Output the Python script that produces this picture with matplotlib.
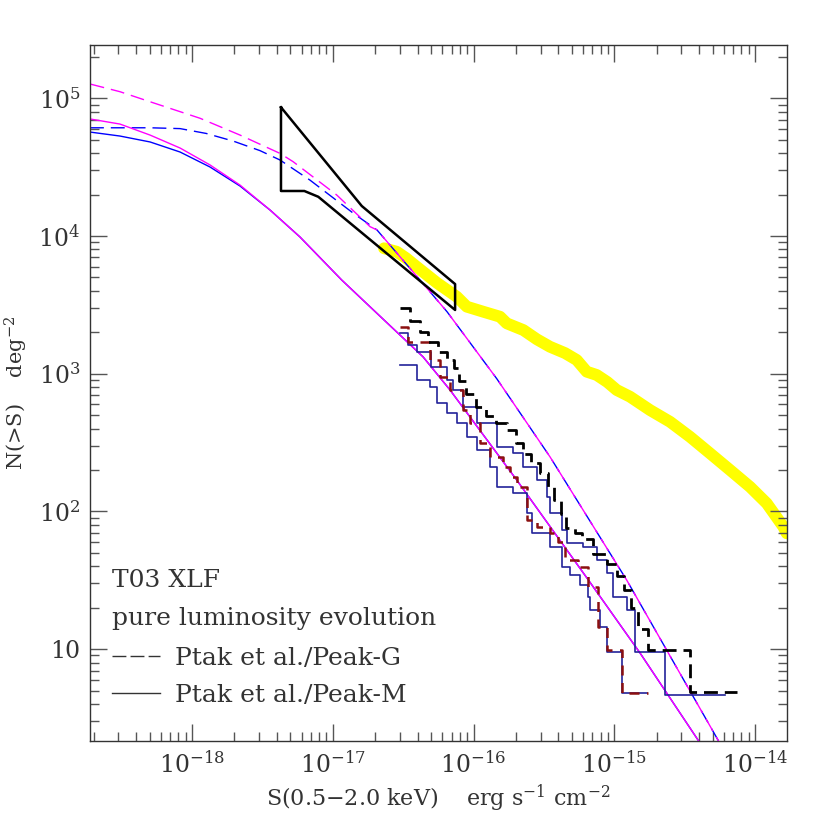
import numpy as np
import matplotlib
matplotlib.use('Agg')
import matplotlib.pyplot as plt
from matplotlib.ticker import LogLocator, FixedLocator, FuncFormatter, NullFormatter

plt.rcParams['font.family'] = ['DejaVu Serif', 'DejaVu Sans']
plt.rcParams['mathtext.fontset'] = 'dejavuserif'

# all values are log10(S) and log10(N)
# model curves (T03 XLF, pure luminosity evolution)
mag_dash_s = [-18.725, -18.512, -18.298, -17.943, -17.659, -17.375, -17.282, -16.972, -16.735]
mag_dash_n = [5.104, 5.048, 4.975, 4.855, 4.733, 4.600, 4.540, 4.298, 4.068]
blue_dash_s = [-18.725, -18.298, -18.085, -17.9, -17.709, -17.517, -17.375, -17.162, -16.856]
blue_dash_n = [4.786, 4.786, 4.780, 4.745, 4.690, 4.620, 4.552, 4.406, 4.167]
# common part of both dashed curves
dash_tail_s = [-16.686, -16.38, -16.188, -15.835, -15.457, -14.912, -14.263, -14.1]
dash_tail_n = [4.044, 3.68, 3.45, 2.964, 2.397, 1.502, 0.34, 0.04]

mag_solid_s = [-18.725, -18.512, -18.298, -18.085, -17.872, -17.659, -17.446, -17.233,
               -16.936, -16.359, -16.167, -15.693, -15.184, -14.817, -14.405, -14.3]
mag_solid_n = [4.850, 4.813, 4.733, 4.639, 4.516, 4.370, 4.189, 3.993,
               3.680, 3.123, 2.882, 2.228, 1.502, 0.972, 0.34, 0.18]
blue_solid_s = [-18.725, -18.512, -18.298, -18.085, -17.872, -17.659, -17.446]
blue_solid_n = [4.755, 4.726, 4.683, 4.610, 4.501, 4.363, 4.189]

# fluctuation analysis region (bow tie)
bow_s = [-17.368, -16.794, -16.131, -16.131, -17.103, -17.202, -17.368, -17.368]
bow_n = [4.935, 4.218, 3.651, 3.463, 4.285, 4.327, 4.327, 4.935]

# observed counts (yellow)
obs_s = [-16.636, -16.546, -16.48, -16.404, -16.26, -16.119, -16.048, -15.93, -15.812,
         -15.764, -15.646, -15.55, -15.457, -15.35, -15.267, -15.196, -15.125, -15.05,
         -14.983, -14.888, -14.746, -14.604, -14.462, -14.32, -14.178, -14.035,
         -13.917, -13.799, -13.775]
obs_n = [3.911, 3.886, 3.84, 3.777, 3.66, 3.559, 3.487, 3.45, 3.414,
         3.366, 3.317, 3.25, 3.196, 3.15, 3.100, 3.015, 2.991, 2.94,
         2.882, 2.833, 2.736, 2.651, 2.542, 2.422, 2.301, 2.178,
         2.059, 1.889, 1.841]

# Ptak et al. staircases: flux where the level drops, level, end flux
g1_s = [-16.52, -16.45, -16.38, -16.32, -16.25, -16.19, -16.14, -16.10, -16.05, -15.98,
        -15.91, -15.84, -15.76, -15.70, -15.65, -15.59, -15.53, -15.47, -15.43, -15.38,
        -15.34, -15.28, -15.23, -15.15, -15.05, -14.98, -14.93, -14.88, -14.83, -14.76,
        -14.46]
g1_n = [3.475, 3.38, 3.30, 3.23, 3.16, 3.10, 3.04, 2.95, 2.85, 2.76,
        2.69, 2.64, 2.59, 2.50, 2.42, 2.35, 2.28, 2.18, 2.08, 1.98,
        1.88, 1.84, 1.80, 1.69, 1.62, 1.53, 1.43, 1.30, 1.15, 0.994,
        0.691]
g1_end = -14.13

g2_s = [-16.52, -16.463, -16.309, -16.238, -16.167, -16.072, -16.025, -15.954, -15.883,
        -15.788, -15.741, -15.693, -15.622, -15.551, -15.457, -15.398, -15.35, -15.256,
        -15.184, -15.113, -15.054, -14.947]
g2_n = [3.341, 3.232, 3.10, 2.978, 2.882, 2.737, 2.640, 2.495, 2.397,
        2.325, 2.252, 2.179, 1.938, 1.889, 1.841, 1.780, 1.647, 1.598,
        1.453, 1.163, 0.994, 0.683]
g2_end = -14.76

m1_s = [-16.522, -16.463, -16.404, -16.30, -16.19, -16.144, -16.072, -15.977, -15.835,
        -15.717, -15.646, -15.551, -15.48, -15.457, -15.373, -15.338, -15.22, -15.125,
        -15.054, -15.007, -14.912, -14.853, -14.64]
m1_n = [3.293, 3.208, 3.16, 3.05, 2.954, 2.882, 2.760, 2.64, 2.47,
        2.422, 2.325, 2.228, 2.107, 1.986, 1.865, 1.768, 1.744, 1.647,
        1.55, 1.38, 1.284, 0.981, 0.667]
m1_end = -14.213

m2_s = [-16.522, -16.404, -16.309, -16.261, -16.19, -16.119, -16.048, -15.977, -15.883,
        -15.835, -15.717, -15.622, -15.587, -15.457, -15.373, -15.314, -15.243, -15.184,
        -15.172, -15.101, -15.054, -14.947]
m2_n = [3.064, 2.954, 2.906, 2.785, 2.712, 2.640, 2.543, 2.446, 2.325,
        2.179, 2.131, 1.986, 1.841, 1.744, 1.598, 1.538, 1.466, 1.381,
        1.284, 1.163, 0.981, 0.683]
m2_end = -14.77

xlim_log = (-18.725, -13.773)
ylim_log = (0.333, 5.389)
xticks_log = [-18, -17, -16, -15, -14]
yticks_log = [1, 2, 3, 4, 5]


def lin(v):
    return 10 ** np.asarray(v, dtype=float)


def stair(s, n, end):
    return lin(list(s) + [end]), lin(list(n) + [n[-1]])


fig = plt.figure(figsize=(8.3, 8.3), dpi=100)
ax = fig.add_axes([0.1084, 0.1072, 0.8398, 0.8389])
ax.set_xscale('log')
ax.set_yscale('log')

ax.plot(lin(obs_s), lin(obs_n), color='#ffff00', lw=8.5, solid_capstyle='round',
        solid_joinstyle='round', zorder=1)

ax.plot(lin(blue_dash_s + dash_tail_s), lin(blue_dash_n + dash_tail_n), color='#0000ff',
        lw=1.0, linestyle=(0, (10, 5)), zorder=2)
ax.plot(lin(mag_dash_s + dash_tail_s), lin(mag_dash_n + dash_tail_n), color='#ff00ff',
        lw=1.0, linestyle=(14.5, (10, 5)), zorder=2.1)
ax.plot(lin(blue_solid_s + mag_solid_s[7:]), lin(blue_solid_n + mag_solid_n[7:]),
        color='#0000ff', lw=1.0, zorder=2)
ax.plot(lin(mag_solid_s), lin(mag_solid_n), color='#ff00ff', lw=1.0, zorder=2.1)

x, y = stair(m1_s, m1_n, m1_end)
ax.step(x, y, where='post', color='#22229a', lw=1.2, zorder=3)
x, y = stair(m2_s, m2_n, m2_end)
ax.step(x, y, where='post', color='#22229a', lw=1.2, zorder=3)
x, y = stair(g2_s, g2_n, g2_end)
ax.step(x, y, where='post', color='#8b1010', lw=1.8, dashes=(4, 3), zorder=3.1)
x, y = stair(g1_s, g1_n, g1_end)
ax.step(x, y, where='post', color='black', lw=2.0, dashes=(5, 2.5), zorder=3.2)

ax.plot(lin(bow_s), lin(bow_n), color='black', lw=1.8, zorder=4)

ax.set_xlim(lin(xlim_log[0]), lin(xlim_log[1]))
ax.set_ylim(lin(ylim_log[0]), lin(ylim_log[1]))

ax.xaxis.set_major_locator(FixedLocator(lin(xticks_log)))
ax.xaxis.set_minor_locator(LogLocator(base=10, subs=np.arange(2, 10), numticks=100))
ax.yaxis.set_major_locator(FixedLocator(lin(yticks_log)))
ax.yaxis.set_minor_locator(LogLocator(base=10, subs=np.arange(2, 10), numticks=100))
ax.xaxis.set_minor_formatter(NullFormatter())
ax.yaxis.set_minor_formatter(NullFormatter())


def fmt(v, pos):
    e = int(round(np.log10(v)))
    if e == 1:
        return '10'
    return r'$10^{%d}$' % e


ax.xaxis.set_major_formatter(FuncFormatter(fmt))
ax.yaxis.set_major_formatter(FuncFormatter(fmt))

ax.tick_params(which='both', direction='in', top=True, right=True, colors='#555555',
               labelcolor='#333333', width=1.0)
ax.tick_params(which='major', length=12, labelsize=17, pad=7)
ax.tick_params(which='minor', length=6.5)
for sp in ax.spines.values():
    sp.set_color('#333333')
    sp.set_linewidth(1.0)

ax.set_xlabel(r'S(0.5$-$2.0 keV)    erg s$^{-1}$ cm$^{-2}$', fontsize=16, color='#333333',
              labelpad=4)
ax.set_ylabel(r'N(>S)    deg$^{-2}$', fontsize=15, color='#333333', labelpad=6)

txt = dict(transform=ax.transAxes, fontsize=18, color='#333333', ha='left', va='baseline')
ax.text(0.031, 0.2216, 'T03 XLF', **txt)
ax.text(0.031, 0.1666, 'pure luminosity evolution', **txt)
ax.text(0.122, 0.1091, 'Ptak et al./Peak-G', **txt)
ax.text(0.122, 0.0564, 'Ptak et al./Peak-M', **txt)
ax.plot([0.031, 0.1004], [0.122, 0.122], transform=ax.transAxes, color='#333333',
        lw=1.0, dashes=(10, 3))
ax.plot([0.031, 0.1004], [0.0689, 0.0689], transform=ax.transAxes, color='#333333', lw=1.0)

fig.savefig('out.png', dpi=100)
